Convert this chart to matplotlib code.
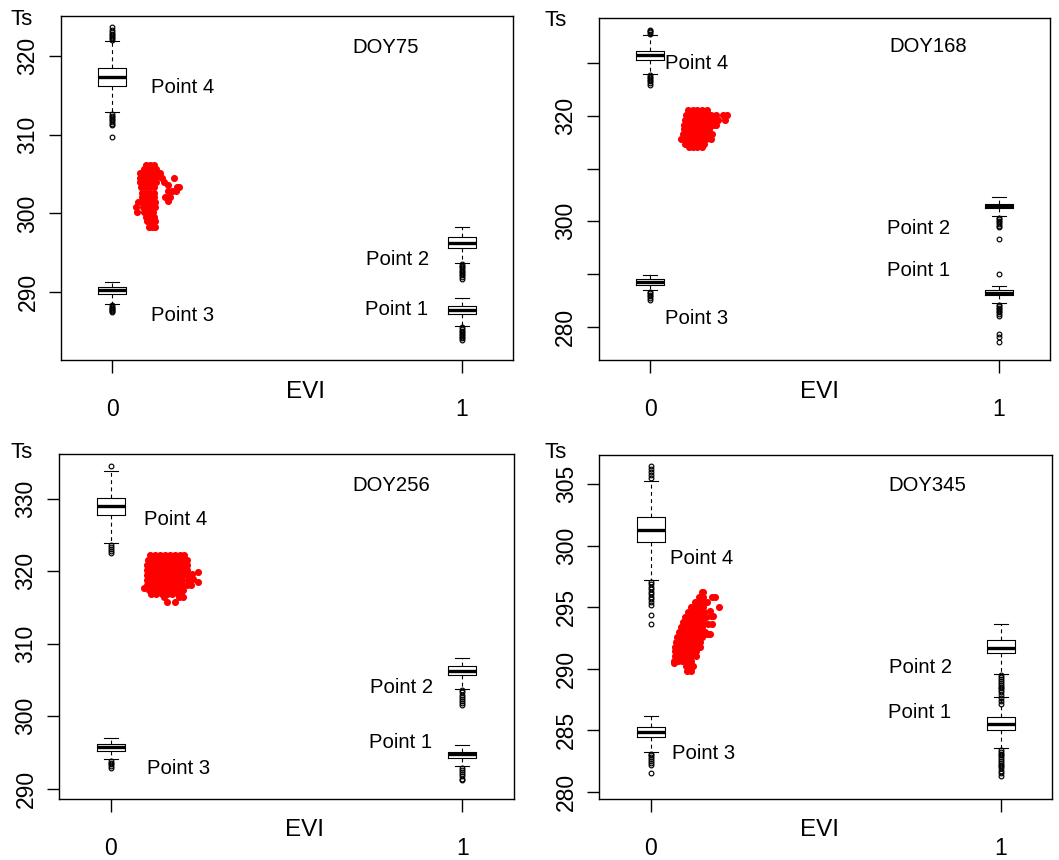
import matplotlib
matplotlib.use("Agg")
import matplotlib.pyplot as plt

plt.rcParams['font.family'] = ['Liberation Sans', 'DejaVu Sans']

W, H = 1059, 860

# ---------------- data ----------------
days = ['DOY75', 'DOY168', 'DOY256', 'DOY345']
point_names = ['Point 1', 'Point 2', 'Point 3', 'Point 4']
point_evi = [1, 1, 0, 0]          # EVI position of each end-member box
evi_ticks = [0, 1]
evi_ticklabels = ['0', '1']

# box statistics: [lower whisker, Q1, median, Q3, upper whisker]
doy75_p1 = [285.7, 287.3, 287.75, 288.3, 289.3]
doy75_p2 = [293.7, 295.6, 296.3, 296.95, 298.25]
doy75_p3 = [288.5, 289.8, 290.25, 290.65, 291.35]
doy75_p4 = [312.8, 316.1, 317.3, 318.4, 321.8]
doy75_p1_out = [285.55, 285.35, 285.15, 284.95, 284.75, 284.55, 284.35, 284.15, 283.95]
doy75_p2_out = [293.55, 293.35, 293.15, 292.95, 292.75, 292.55, 292.35, 292.15, 291.95, 291.7]
doy75_p3_out = [288.35, 288.2, 288.05, 287.9, 287.75, 287.6, 287.5]
doy75_p4_out = [322.0, 322.2, 322.4, 322.6, 322.8, 323.0, 323.3, 323.6,
                312.6, 312.4, 312.2, 312.0, 311.8, 311.6, 311.4, 311.2, 309.7]

doy168_p1 = [284.5, 286.0, 286.5, 287.0, 287.8]
doy168_p2 = [300.95, 302.45, 302.9, 303.3, 304.65]
doy168_p3 = [286.95, 287.9, 288.45, 289.0, 289.9]
doy168_p4 = [327.9, 330.55, 331.5, 332.3, 335.3]
doy168_p1_out = [290.05, 284.25, 283.95, 283.65, 283.35, 283.05, 282.75, 282.45, 282.1,
                 278.7, 278.1, 277.2]
doy168_p2_out = [300.7, 300.4, 300.1, 299.8, 299.5, 299.2, 298.9, 296.65]
doy168_p3_out = [286.7, 286.4, 286.1, 285.8, 285.5, 285.2]
doy168_p4_out = [335.5, 335.8, 336.0, 336.3, 327.7, 327.4, 327.1, 326.8, 326.5, 326.2, 325.9]

doy256_p1 = [293.1, 294.3, 294.75, 295.1, 296.0]
doy256_p2 = [303.8, 305.65, 306.3, 306.95, 308.1]
doy256_p3 = [294.05, 295.25, 295.75, 296.2, 296.95]
doy256_p4 = [323.9, 327.75, 329.05, 330.2, 333.9]
doy256_p1_out = [292.9, 292.6, 292.3, 292.0, 291.7, 291.4, 291.15]
doy256_p2_out = [303.6, 303.3, 303.0, 302.7, 302.4, 302.1, 301.8, 301.55]
doy256_p3_out = [293.85, 293.6, 293.35, 293.1, 292.9]
doy256_p4_out = [334.6, 323.7, 323.4, 323.1, 322.8, 322.5]

doy345_p1 = [283.55, 285.05, 285.53, 286.05, 287.68]
doy345_p2 = [289.55, 291.26, 291.72, 292.37, 293.6]
doy345_p3 = [283.25, 284.47, 284.82, 285.3, 286.15]
doy345_p4 = [297.2, 300.28, 301.25, 302.3, 305.3]
doy345_p1_out = [283.4, 283.25, 283.1, 282.95, 282.8, 282.65, 282.5, 282.35, 282.2,
                 282.05, 281.9, 281.7, 281.5, 281.3]
doy345_p2_out = [289.45, 289.3, 289.15, 289.0, 288.85, 288.7, 288.55, 288.4, 288.25,
                 288.1, 287.9, 287.65, 287.4, 287.15]
doy345_p3_out = [283.1, 282.95, 282.8, 282.65, 282.5, 282.35, 282.2, 281.55]
doy345_p4_out = [305.5, 305.75, 306.0, 306.25, 306.5,
                 297.05, 296.85, 296.65, 296.45, 296.25, 296.05, 295.85, 295.65, 295.45,
                 295.2, 294.35, 293.65]

# pixel observations (EVI, Ts), grouped by Ts row: (Ts, [EVI values])
doy75_cloud = [
    (306.2, [0.095, 0.108, 0.120]),
    (305.6, [0.090, 0.102, 0.114, 0.126]),
    (305.1, [0.080, 0.092, 0.104, 0.116, 0.128, 0.136]),
    (304.45, [0.078, 0.090, 0.102, 0.114, 0.126, 0.143, 0.176]),
    (303.95, [0.080, 0.092, 0.104, 0.116, 0.126, 0.149]),
    (303.6, [0.160]),
    (303.3, [0.082, 0.094, 0.106, 0.118, 0.185, 0.191]),
    (302.85, [0.158, 0.172, 0.181]),
    (302.6, [0.084, 0.096, 0.108, 0.120]),
    (302.1, [0.084, 0.096, 0.108, 0.120, 0.151, 0.166]),
    (301.6, [0.158]),
    (301.4, [0.072, 0.086, 0.098, 0.110, 0.122]),
    (300.8, [0.068, 0.088, 0.100, 0.112, 0.122]),
    (300.2, [0.070, 0.092, 0.104, 0.116]),
    (299.6, [0.096, 0.108, 0.120]),
    (299.0, [0.098, 0.110, 0.122]),
    (298.3, [0.104, 0.114, 0.122]),
]
doy168_cloud = [
    (321.0, [0.108, 0.122, 0.136, 0.150, 0.164]),
    (320.1, [0.104, 0.118, 0.132, 0.146, 0.160, 0.174, 0.188, 0.208, 0.222]),
    (319.2, [0.100, 0.114, 0.128, 0.142, 0.156, 0.170, 0.184, 0.196, 0.214]),
    (318.3, [0.096, 0.110, 0.124, 0.138, 0.152, 0.166, 0.180, 0.190]),
    (317.4, [0.096, 0.110, 0.124, 0.138, 0.152, 0.170]),
    (316.5, [0.094, 0.108, 0.122, 0.136, 0.150, 0.164, 0.178]),
    (315.6, [0.090, 0.104, 0.118, 0.132, 0.146, 0.160, 0.174]),
    (314.7, [0.100, 0.114, 0.128, 0.142, 0.154]),
    (314.0, [0.112, 0.124, 0.136, 0.148]),
]
doy256_cloud = [
    (322.3, [0.112, 0.126, 0.140, 0.154, 0.168, 0.182, 0.196, 0.208]),
    (321.6, [0.106, 0.120, 0.134, 0.148, 0.162, 0.176, 0.190, 0.204, 0.216]),
    (320.9, [0.104, 0.118, 0.132, 0.146, 0.160, 0.174, 0.188, 0.202, 0.218]),
    (320.2, [0.104, 0.118, 0.132, 0.146, 0.160, 0.174, 0.188, 0.202, 0.218]),
    (319.96, [0.249]),
    (319.6, [0.232]),
    (319.5, [0.104, 0.118, 0.132, 0.146, 0.160, 0.174, 0.188, 0.202, 0.218]),
    (318.9, [0.234]),
    (318.8, [0.104, 0.118, 0.132, 0.146, 0.160, 0.174, 0.188, 0.202, 0.220]),
    (318.5, [0.249]),
    (318.1, [0.104, 0.118, 0.132, 0.146, 0.160, 0.174, 0.188, 0.202, 0.216, 0.227]),
    (317.75, [0.095]),
    (317.4, [0.108, 0.122, 0.136, 0.150, 0.164, 0.178, 0.192, 0.206]),
    (316.9, [0.115, 0.130, 0.145, 0.160, 0.175, 0.190, 0.200]),
    (316.4, [0.152, 0.194, 0.205]),
    (315.8, [0.161, 0.184]),
]
doy345_cloud = [
    (296.2, [0.145, 0.150]),
    (295.86, [0.184]),
    (295.8, [0.138, 0.150, 0.176]),
    (295.4, [0.125, 0.138, 0.150, 0.160]),
    (295.05, [0.196]),
    (295.0, [0.115, 0.128, 0.140, 0.150]),
    (294.7, [0.169]),
    (294.6, [0.106, 0.118, 0.130, 0.142, 0.152]),
    (294.25, [0.173, 0.179]),
    (294.2, [0.098, 0.110, 0.122, 0.134, 0.146, 0.158]),
    (293.8, [0.092, 0.104, 0.116, 0.128, 0.140, 0.150]),
    (293.65, [0.163, 0.174]),
    (293.4, [0.086, 0.098, 0.110, 0.122, 0.134, 0.146]),
    (293.0, [0.080, 0.092, 0.104, 0.116, 0.128, 0.140, 0.155]),
    (292.85, [0.160, 0.168]),
    (292.6, [0.075, 0.087, 0.099, 0.111, 0.123, 0.135, 0.145]),
    (292.2, [0.072, 0.084, 0.096, 0.108, 0.120, 0.132, 0.142]),
    (291.8, [0.070, 0.082, 0.094, 0.106, 0.118, 0.130, 0.140]),
    (291.4, [0.070, 0.082, 0.094, 0.106, 0.118, 0.130]),
    (291.0, [0.068, 0.080, 0.092, 0.104, 0.116, 0.128]),
    (290.6, [0.066, 0.078, 0.090, 0.102, 0.114]),
    (290.44, [0.066]),
    (290.2, [0.100, 0.112, 0.122]),
    (289.8, [0.104, 0.116]),
]

panels = [
    (days[0], [doy75_p1, doy75_p2, doy75_p3, doy75_p4],
     [doy75_p1_out, doy75_p2_out, doy75_p3_out, doy75_p4_out], doy75_cloud),
    (days[1], [doy168_p1, doy168_p2, doy168_p3, doy168_p4],
     [doy168_p1_out, doy168_p2_out, doy168_p3_out, doy168_p4_out], doy168_cloud),
    (days[2], [doy256_p1, doy256_p2, doy256_p3, doy256_p4],
     [doy256_p1_out, doy256_p2_out, doy256_p3_out, doy256_p4_out], doy256_cloud),
    (days[3], [doy345_p1, doy345_p2, doy345_p3, doy345_p4],
     [doy345_p1_out, doy345_p2_out, doy345_p3_out, doy345_p4_out], doy345_cloud),
]

# ---------------- layout ----------------
# axes frames in pixels: left, top, right, bottom
frames = [(61, 16, 512.7, 360), (598.7, 18.3, 1050, 360.3),
          (59, 454, 513.7, 799.3), (599.3, 455, 1052, 799.3)]
ylims = [(281.42, 325.03), (273.7, 338.44), (288.54, 336.21), (279.38, 307.38)]
yticks = [[290, 300, 310, 320], [280, 290, 300, 310, 320, 330],
          [290, 300, 310, 320, 330], [280, 285, 290, 295, 300, 305]]
ytick_show = [None, [280, 300, 320], None, None]
# label positions (EVI, Ts) for Point 1..4 and the day title
label_pos = [
    [(0.814, 287.85), (0.815, 294.1), (0.2017, 287.0), (0.2017, 315.94), (0.782, 321.07)],
    [(0.768, 290.79), (0.770, 298.68), (0.133, 281.65), (0.133, 329.79), (0.796, 333.06)],
    [(0.824, 296.4), (0.8265, 304.0), (0.1916, 292.82), (0.1845, 327.2), (0.7986, 331.8)],
    [(0.769, 286.43), (0.770, 290.12), (0.151, 283.12), (0.145, 298.98), (0.790, 304.86)],
]
ts_pos = [(21.7, 19.5), (556, 20.5), (21.5, 453), (555.5, 452.5)]
evi_pos = [(305.7, 391.7), (819.7, 391.7), (304.2, 830), (819.7, 830)]


def fx(x):
    return x / W


def fy(y):
    return 1 - y / H


fig = plt.figure(figsize=(W / 100, H / 100), dpi=100)
fig.patch.set_facecolor('white')

for i, (day, boxes, outs, cloud) in enumerate(panels):
    l, t, r, b = frames[i]
    ax = fig.add_axes([fx(l), fy(b), (r - l) / W, (b - t) / H])
    for s in ax.spines.values():
        s.set_linewidth(1.0)
        s.set_color('black')

    stats = []
    for bx, out in zip(boxes, outs):
        stats.append(dict(whislo=bx[0], q1=bx[1], med=bx[2], q3=bx[3],
                          whishi=bx[4], fliers=out))
    ax.bxp(stats, positions=point_evi, widths=0.08, capwidths=0.04,
           manage_ticks=False, showfliers=True,
           boxprops=dict(color='black', linewidth=0.8),
           medianprops=dict(color='black', linewidth=2.4, solid_capstyle='butt'),
           whiskerprops=dict(color='black', linewidth=0.8, linestyle=(0, (3.5, 3))),
           capprops=dict(color='black', linewidth=0.8),
           flierprops=dict(marker='o', markersize=3.4, markerfacecolor='none',
                           markeredgecolor='black', markeredgewidth=0.85, linestyle='none'))

    xs, ys = [], []
    for ts, evis in cloud:
        for e in evis:
            xs.append(e)
            ys.append(ts)
    ax.scatter(xs, ys, s=26, color='#ff0000', linewidths=0, zorder=3)

    ax.set_xlim(-0.147, 1.146)
    ax.set_ylim(*ylims[i])
    ax.set_xticks(evi_ticks)
    ax.set_xticklabels(evi_ticklabels, fontsize=16.5)
    ax.set_yticks(yticks[i])
    show = ytick_show[i]
    ax.set_yticklabels([str(v) if (show is None or v in show) else '' for v in yticks[i]],
                       fontsize=16.5, rotation=90, va='center')
    ax.tick_params(axis='x', length=9.4, width=1.0, pad=18.0)
    ax.tick_params(axis='y', length=8.5, width=1.0, pad=7.0)

    for k, name in enumerate(point_names):
        ex, ty = label_pos[i][k]
        ax.text(ex, ty, name, fontsize=14.6, ha='center', va='center')
    ex, ty = label_pos[i][4]
    ax.text(ex, ty, day, fontsize=14.6, ha='center', va='center')

    fig.text(fx(ts_pos[i][0]), fy(ts_pos[i][1]), 'Ts', fontsize=16,
             ha='center', va='center')
    fig.text(fx(evi_pos[i][0]), fy(evi_pos[i][1]), 'EVI', fontsize=17.5,
             ha='center', va='center')

fig.savefig('out.png', dpi=100, facecolor='white')
